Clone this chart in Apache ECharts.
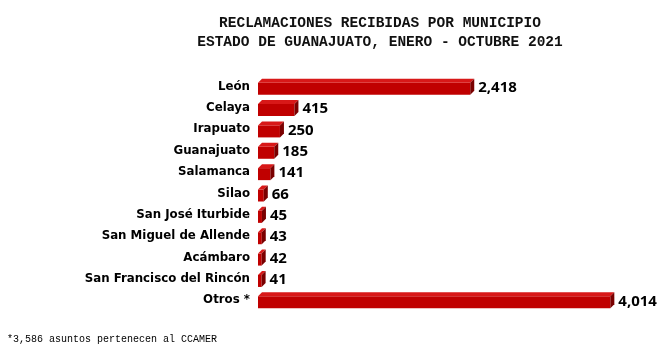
<!DOCTYPE html>
<html><head><meta charset="utf-8">
<script src="https://cdn.jsdelivr.net/npm/echarts@6/dist/echarts.min.js"></script>
<style>html,body{margin:0;padding:0;background:#fff}#c{width:668px;height:353px}</style>
</head><body><div id="c"></div>
<script>
var categories = ["León","Celaya","Irapuato","Guanajuato","Salamanca","Silao","San José Iturbide","San Miguel de Allende","Acámbaro","San Francisco del Rincón","Otros *"];
var values = [2418,415,250,185,141,66,45,43,42,41,4014];
var titleLines = ["RECLAMACIONES RECIBIDAS POR MUNICIPIO","ESTADO DE GUANAJUATO, ENERO - OCTUBRE 2021"];
var footnote = "*3,586 asuntos pertenecen al CCAMER";

var chart = echarts.init(document.getElementById('c'));
var D = 4, H = 16;
function fmt(v){return v.toLocaleString('en-US');}
chart.setOption({
  animation:false,
  title:{text:titleLines.join('\n'),left:375,textAlign:'center',top:9,
    textStyle:{fontFamily:'Liberation Mono',fontSize:14.5,fontWeight:'bold',color:'#111',lineHeight:19}},
  graphic:[{type:'text',left:7,top:334,style:{text:footnote,font:'10px "Liberation Mono"',fill:'#000'}}],
  grid:{left:258,right:15,top:76,bottom:42},
  xAxis:{type:'value',min:0,max:4500,show:false},
  yAxis:{type:'category',data:categories,inverse:true,
    axisLine:{show:false},axisTick:{show:false},
    axisLabel:{margin:8,fontFamily:'DejaVu Sans',fontWeight:'bold',fontSize:11.8,color:'#000'}},
  series:[{type:'custom',data:values.map(function(v,i){return [v,i];}),
    renderItem:function(params,api){
      var v=api.value(0), i=api.value(1);
      var p0=api.coord([0,i]), p1=api.coord([v,i]);
      var x0=p0[0], x1=p1[0], yc=p0[1];
      var top=yc-H/2, bot=yc+H/2;
      return {type:'group',children:[
        {type:'rect',shape:{x:x0,y:top+D,width:Math.max(x1-x0,1),height:H-D},style:{fill:'#c00000'}},
        {type:'polygon',shape:{points:[[x0,top+D],[x0+D,top],[x1+D,top],[x1,top+D]]},style:{fill:'#d81818'}},
        {type:'polygon',shape:{points:[[x1,top+D],[x1+D,top],[x1+D,bot-D],[x1,bot]]},style:{fill:'#7a0000'}},
        {type:'text',style:{text:fmt(v),x:x1+D+4,y:yc+1,textVerticalAlign:'middle',
          font:'bold 15px "Noto Sans"',fill:'#000'}}
      ]};
    }}]
});
</script></body></html>
